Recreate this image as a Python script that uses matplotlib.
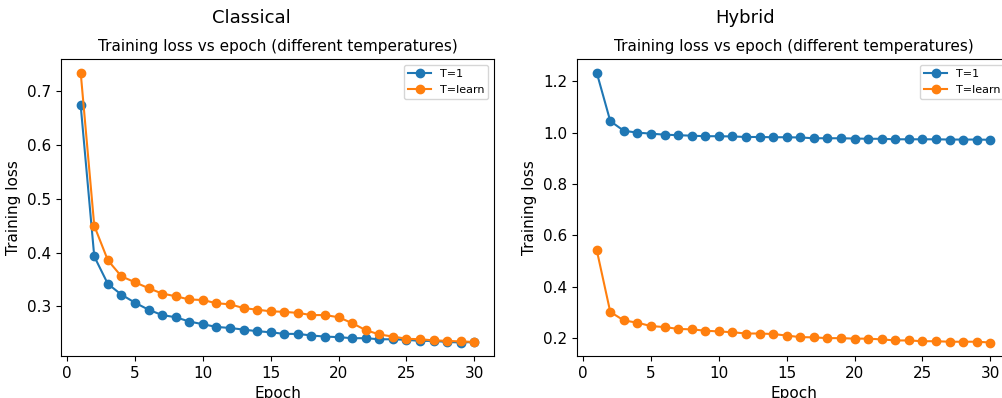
import matplotlib
matplotlib.use("Agg")
import matplotlib.pyplot as plt

epochs = list(range(1, 31))

classical_t1 = [0.674, 0.393, 0.342, 0.322, 0.307, 0.294, 0.284, 0.280, 0.272, 0.267,
                0.262, 0.260, 0.257, 0.254, 0.252, 0.249, 0.249, 0.246, 0.244, 0.243,
                0.241, 0.241, 0.239, 0.239, 0.238, 0.236, 0.236, 0.234, 0.233, 0.234]
classical_tlearn = [0.735, 0.450, 0.386, 0.356, 0.345, 0.334, 0.324, 0.319, 0.313, 0.312,
                    0.306, 0.304, 0.297, 0.294, 0.291, 0.290, 0.288, 0.284, 0.284, 0.280,
                    0.269, 0.256, 0.248, 0.244, 0.240, 0.239, 0.237, 0.236, 0.235, 0.234]

hybrid_t1 = [1.234, 1.045, 1.007, 1.000, 0.996, 0.992, 0.990, 0.988, 0.986, 0.986,
             0.985, 0.983, 0.983, 0.982, 0.982, 0.981, 0.978, 0.978, 0.978, 0.977,
             0.976, 0.976, 0.974, 0.974, 0.974, 0.974, 0.973, 0.973, 0.973, 0.972]
hybrid_tlearn = [0.544, 0.302, 0.269, 0.260, 0.247, 0.243, 0.236, 0.234, 0.229, 0.226,
                 0.223, 0.218, 0.218, 0.216, 0.210, 0.204, 0.203, 0.200, 0.200, 0.198,
                 0.198, 0.195, 0.191, 0.191, 0.188, 0.188, 0.186, 0.186, 0.186, 0.183]

panels = [
    ("Classical", classical_t1, classical_tlearn),
    ("Hybrid", hybrid_t1, hybrid_tlearn),
]

W, H = 1002, 398
fig = plt.figure(figsize=(W / 100, H / 100), dpi=100)

axes_left_px = [61, 577]
axes_width_px = 433
axes_bottom_px = 398 - 356
axes_height_px = 297
group_title_x = [251, 745]

for (name, t1, tlearn), lx, gx in zip(panels, axes_left_px, group_title_x):
    ax = fig.add_axes([lx / W, axes_bottom_px / H, axes_width_px / W, axes_height_px / H])
    ax.plot(epochs, t1, marker="o", color="#1f77b4", label="T=1")
    ax.plot(epochs, tlearn, marker="o", color="#ff7f0e", label="T=learn")
    ax.set_title("Training loss vs epoch (different temperatures)", fontsize=11)
    ax.set_xlabel("Epoch", fontsize=11)
    ax.set_ylabel("Training loss", fontsize=11)
    ax.tick_params(labelsize=11)
    ax.legend(loc="upper right", fontsize=8)
    fig.text(gx / W, 1 - 18 / H, name, ha="center", va="center", fontsize=13)

fig.savefig("out.png", dpi=100)
